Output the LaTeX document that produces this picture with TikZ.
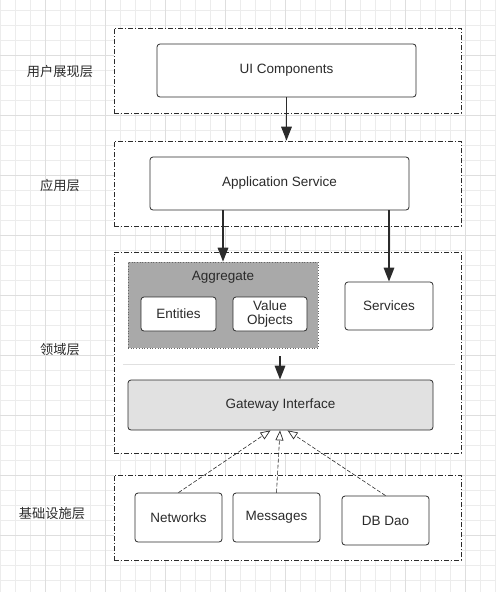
\documentclass[tikz,border=0pt]{standalone}
\usepackage{fontspec}
\setmainfont{Liberation Sans}
\newfontfamily\cjk{Noto Sans CJK SC}
\usetikzlibrary{positioning, arrows.meta}

\definecolor{rasterhell}{HTML}{ECECEC}
\definecolor{rasterdunkel}{HTML}{DEDEDE}
\definecolor{aggregatgrau}{HTML}{A9A9A9}
\definecolor{gatewaygrau}{HTML}{E1E1E1}
\definecolor{linie}{HTML}{2B2B2B}

\tikzset{
    schicht/.style={
        draw=linie,          % gestrichelt-gepunktete Schichtgrenze
        fill=white,
        dash pattern=on 5pt off 2pt on 1pt off 2pt,
        line width=0.7pt,
        inner sep=0pt
    },
    kasten/.style={
        draw=linie,
        fill=white,
        rounded corners=3pt,
        line width=0.8pt,
        inner sep=0pt,
        align=center,
        text=linie,
        font=\fontsize{13.5}{15}\selectfont
    },
    schichtname/.style={
        text=linie,
        font=\cjk\fontsize{13.2}{15}\selectfont
    },
    pfeil/.style={
        draw=linie,
        line width=1.7pt,
        -{Triangle[length=14pt,width=10.5pt]}
    },
    realisiert/.style={
        draw=linie,
        line width=0.6pt,
        dash pattern=on 4pt off 2pt,
        -{Triangle[fill=white,length=10pt,width=8pt,line width=0.7pt]}
    }
}

\begin{document}
\begin{tikzpicture}[x=1pt, y=-1pt]

    % Rahmen und Hintergrundraster
    \useasboundingbox (0,0) rectangle (496,592);
    \fill[white] (0,0) rectangle (496,592);
    \foreach \gx in {0,15,...,495} {
        \draw[rasterhell, line width=0.5pt] (\gx,0) -- (\gx,592);
    }
    \foreach \gy in {10,25,...,592} {
        \draw[rasterhell, line width=0.5pt] (0,\gy) -- (496,\gy);
    }
    \foreach \gx in {45,105,...,495} {
        \draw[rasterdunkel, line width=0.6pt] (\gx,0) -- (\gx,592);
    }
    \foreach \gy in {55,115,...,592} {
        \draw[rasterdunkel, line width=0.6pt] (0,\gy) -- (496,\gy);
    }

    % Die vier Schichten
    \node[schicht, minimum width=347pt, minimum height=85pt]  (S1) at (287.5,70.5) {};
    \node[schicht, minimum width=347pt, minimum height=85pt]  (S2) at (287.5,183.5) {};
    \node[schicht, minimum width=347pt, minimum height=201pt] (S3) at (287.5,352.5) {};
    \node[schicht, minimum width=347pt, minimum height=85pt]  (S4) at (287.5,517.5) {};

    % Schichtnamen links
    \node[schichtname] (N1) at (60,72)  {用户展现层};
    \node[schichtname] (N2) at (60,185) {应用层};
    \node[schichtname] (N3) at (60,350) {领域层};
    \node[schichtname] (N4) at (52,514) {基础设施层};

    % Benutzeroberfläche
    \node[kasten, minimum width=259pt, minimum height=53pt] (UI) at (286.5,70.5) {UI Components};

    % Anwendung
    \node[kasten, minimum width=259pt, minimum height=53pt] (App) at (279.5,183.5) {Application Service};

    % Domäne: Aggregat mit Inhalt
    \node[draw=black!60, fill=aggregatgrau, dotted, line width=0.7pt, inner sep=0pt,
          minimum width=190pt, minimum height=86pt] (Agg) at (223,305) {};
    \node[font=\fontsize{13.5}{15}\selectfont, text=linie] (AggTitel) at (223,277) {Aggregate};
    \node[kasten, minimum width=75pt, minimum height=34pt] (Ent) at (178.5,314) {Entities};
    \node[kasten, minimum width=74pt, minimum height=34pt, font=\fontsize{13.5}{14.5}\selectfont]
          (VO) at (270,314) {Value\\Objects};
    \node[kasten, minimum width=88pt, minimum height=48pt] (Srv) at (389,306) {Services};

    % schwache Trennlinie in der Domäne
    \coordinate (TrennL) at (123,364);
    \coordinate (TrennR) at (455,364);
    \draw[black!12, line width=0.8pt] (TrennL) -- (TrennR);

    \node[kasten, fill=gatewaygrau, minimum width=305pt, minimum height=50pt] (GW) at (280.5,405) {Gateway Interface};

    % Infrastruktur
    \node[kasten, minimum width=87pt, minimum height=49pt] (Net) at (178.5,517.5) {Networks};
    \node[kasten, minimum width=87pt, minimum height=49pt] (Msg) at (276.5,517.5) {Messages};
    \node[kasten, minimum width=87pt, minimum height=49pt] (DB)  at (385.5,520.5) {DB Dao};

    % Aufrufpfeile
    \draw[pfeil] (UI.south) -- (UI.south |- S2.north);
    \draw[pfeil] (Agg.north |- App.south) -- (Agg.north);
    \draw[pfeil] (Srv.north |- App.south) -- (Srv.north);
    \coordinate (AggAus) at (280,356);
    \draw[pfeil] (AggAus) -- (AggAus |- GW.north);

    % Implementierungen der Gateway-Schnittstelle
    \draw[realisiert] (Net.north) -- ([xshift=-10pt]GW.south);
    \draw[realisiert] (Msg.north) -- ([xshift=-0.5pt]GW.south);
    \draw[realisiert] (DB.north)  -- ([xshift=7pt]GW.south);

\end{tikzpicture}
\end{document}
